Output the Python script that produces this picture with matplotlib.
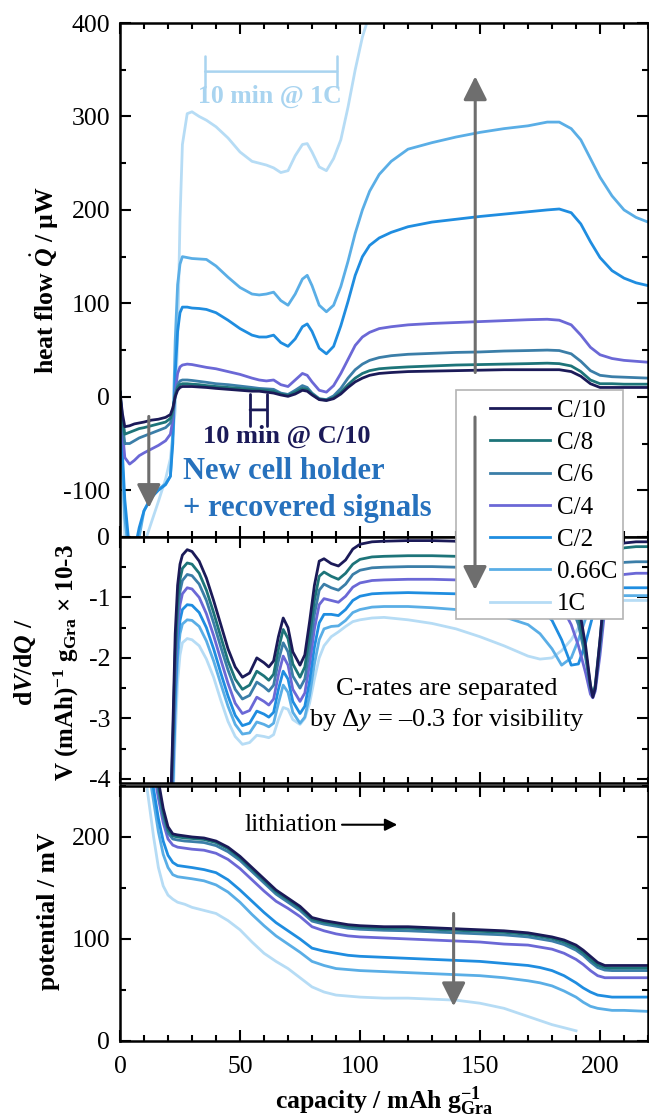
import numpy as np
import matplotlib
matplotlib.use('Agg')
import matplotlib.pyplot as plt
from matplotlib.ticker import MultipleLocator
from matplotlib.patches import Rectangle, FancyArrowPatch

plt.rcParams['font.family'] = ['Liberation Serif', 'DejaVu Serif']
plt.rcParams['mathtext.fontset'] = 'custom'
plt.rcParams['mathtext.rm'] = 'Liberation Serif'
plt.rcParams['mathtext.it'] = 'Liberation Serif:italic'
plt.rcParams['mathtext.bf'] = 'Liberation Serif:bold'
plt.rcParams['mathtext.bfit'] = 'Liberation Serif:italic:bold'
plt.rcParams['axes.unicode_minus'] = False

rates = ['C/10', 'C/8', 'C/6', 'C/4', 'C/2', '0.66C', '1C']
colors = ['#1b1a58', '#1d7479', '#3b7ea8', '#6b68d6', '#1f8de0', '#5aaee6', '#b6dcf5']

# heat flow / uW
heat_x = [0, 1, 2, 4, 6, 8, 10, 13, 16, 19, 21, 22, 23, 24, 25, 26, 28, 30, 33, 36,
          40, 45, 50, 55, 58, 61, 64, 67, 70, 73, 76, 78, 80, 83, 86, 89, 92, 95, 98, 101,
          104, 108, 113, 120, 130, 140, 150, 160, 170, 178, 183, 188, 192, 196, 200, 205, 210, 215, 220]
heat_c10 = [5, -18, -32, -31, -29, -28, -27, -25, -24, -22, -19, -12, 0, 7, 10, 11, 11, 11, 10.5, 10,
            9, 8, 7, 6, 6, 5, 4, 2, 0.5, 3, 7, 6, 2, -3, -4, -2, 3, 10, 16, 20,
            23, 25, 26, 27, 27.5, 28, 28.5, 29, 29, 29, 29, 27, 22, 14, 10, 10, 10, 10, 10]
heat_c8 = [5, -22, -40, -38, -36, -34, -33, -31, -29, -27, -23, -14, 2, 10, 13, 14, 14, 13.5, 13, 12,
           11, 10, 9, 8, 7.5, 7, 6, 3, 1.5, 5, 9, 8, 3, -2.5, -3.5, -1, 5, 13, 20, 25,
           28, 30, 31, 32, 33, 34, 34.5, 35, 35.5, 36, 35.5, 33, 27, 18, 14, 14, 13.5, 13.5, 13.5]
heat_c6 = [5, -28, -50, -50, -47, -44, -42, -39, -36, -33, -28, -18, 2, 13, 17, 18, 18, 17.5, 16.5, 15.5,
           14, 13, 11.5, 10, 9, 8.5, 8, 4, 2.5, 7, 12, 10, 4, -2, -3, 1, 9, 20, 29, 35,
           39, 42, 44, 45.5, 46.5, 47.5, 48, 49, 49.5, 50, 49.5, 46, 38, 28, 23, 21.5, 21, 20.5, 20]
heat_c4 = [5, -35, -65, -72, -68, -63, -60, -56, -52, -47, -40, -25, 5, 25, 32, 34, 35, 34.5, 33, 31.5,
           30, 27, 24, 20, 18, 17, 18, 13, 11, 18, 25, 23, 16, 7, 5, 12, 25, 40, 55, 64,
           69, 73, 75, 77, 78.5, 79.5, 80.5, 81.5, 82.5, 83, 82, 77, 66, 53, 45, 41, 39, 38, 37]
heat_c2 = [5, -60, -110, -165, -165, -140, -122, -108, -100, -94, -85, -50, 25, 70, 90, 96, 96, 95, 94.5, 93.5,
           90, 82, 73, 66, 64, 64, 66, 58, 54, 62, 75, 78, 70, 52, 46, 54, 76, 102, 130, 150,
           162, 170, 176, 182, 187, 190, 193, 195.5, 198, 200, 201, 197, 185, 166, 149, 135, 127, 122, 119]
heat_c066 = [5, -70, -130, -175, -170, -150, -122, -107, -99, -93, -85, -40, 60, 120, 142, 150, 149, 148, 147.5, 147,
             140, 128, 117, 110, 109, 110, 112, 103, 98, 110, 126, 130, 119, 98, 91, 98, 118, 145, 175, 200,
             220, 238, 252, 265, 272, 278, 283, 287, 290, 294, 294, 287, 275, 255, 235, 215, 200, 192, 187]
heat_c1 = [5, -80, -150, -185, -190, -175, -158, -135, -112, -88, -66, -40, -15, 60, 190, 270, 303, 305, 300, 296,
           289, 277, 262, 252, 250, 248, 245, 240, 242, 258, 270, 271, 262, 246, 242, 255, 275, 310, 350, 385,
           410, 460] + [np.nan] * 17

# dV/dQ, each C-rate shifted by -0.3
dvdq_x = [20, 21, 22, 23, 24, 25, 26, 28, 30, 33, 36, 39, 42, 45, 48, 51, 54, 57, 60, 62,
          64, 66, 68, 70, 72, 75, 77, 79, 81, 83, 85, 88, 91, 94, 97, 100, 105, 110, 120, 130,
          140, 150, 160, 170, 175, 180, 184, 188, 191, 194, 196, 197, 198, 200, 202, 205, 210, 215, 220]
dvdq_c10 = [-5.0, -4.6, -3.2, -1.6, -0.8, -0.45, -0.3, -0.21, -0.24, -0.4,
            -0.68, -1.05, -1.45, -1.85, -2.15, -2.32, -2.25, -2.0, -2.08, -2.15,
            -2.05, -1.65, -1.34, -1.5, -1.9, -2.12, -1.95, -1.4, -0.8, -0.4,
            -0.36, -0.44, -0.48, -0.38, -0.2, -0.12, -0.08, -0.07, -0.06, -0.06,
            -0.07, -0.08, -0.1, -0.14, -0.18, -0.26, -0.4, -0.7, -1.1, -1.8,
            -2.45, -2.65, -2.5, -1.7, -0.8, -0.25, -0.1, -0.08, -0.08]
dvdq_c8 = [-5.0, -4.7, -3.4, -1.9, -1.05, -0.7, -0.52, -0.43, -0.45, -0.6,
           -0.88, -1.25, -1.65, -2.05, -2.35, -2.52, -2.45, -2.22, -2.3, -2.37,
           -2.27, -1.86, -1.53, -1.68, -2.1, -2.32, -2.15, -1.62, -1.05, -0.65,
           -0.58, -0.65, -0.7, -0.6, -0.45, -0.37, -0.33, -0.32, -0.31, -0.31,
           -0.32, -0.33, -0.35, -0.4, -0.45, -0.55, -0.7, -0.95, -1.3, -1.9,
           -2.45, -2.62, -2.45, -1.7, -0.85, -0.3, -0.18, -0.16, -0.16]
dvdq_c6 = [-5.0, -4.8, -3.6, -2.1, -1.25, -0.9, -0.72, -0.62, -0.64, -0.78,
           -1.05, -1.42, -1.82, -2.2, -2.52, -2.68, -2.62, -2.4, -2.48, -2.55,
           -2.45, -2.05, -1.75, -1.9, -2.3, -2.5, -2.35, -1.85, -1.28, -0.88,
           -0.78, -0.84, -0.88, -0.78, -0.62, -0.55, -0.51, -0.5, -0.49, -0.49,
           -0.5, -0.51, -0.53, -0.58, -0.63, -0.72, -0.88, -1.12, -1.45, -2.0,
           -2.5, -2.63, -2.5, -1.8, -1.0, -0.5, -0.42, -0.41, -0.41]
dvdq_c4 = [-5.0, -4.8, -3.8, -2.35, -1.5, -1.12, -0.94, -0.84, -0.86, -1.0,
           -1.27, -1.63, -2.03, -2.42, -2.75, -2.92, -2.87, -2.65, -2.72, -2.78,
           -2.68, -2.28, -1.97, -2.12, -2.52, -2.72, -2.58, -2.1, -1.52, -1.12,
           -1.02, -1.05, -1.08, -0.98, -0.83, -0.76, -0.72, -0.71, -0.7, -0.7,
           -0.71, -0.72, -0.75, -0.8, -0.86, -0.97, -1.15, -1.45, -1.8, -2.25,
           -2.6, -2.66, -2.55, -1.95, -1.2, -0.7, -0.62, -0.6, -0.6]
dvdq_c2 = [-5.0, -4.9, -4.0, -2.6, -1.75, -1.38, -1.2, -1.12, -1.13, -1.25,
           -1.5, -1.85, -2.25, -2.63, -2.95, -3.12, -3.08, -2.88, -2.93, -2.98,
           -2.9, -2.52, -2.22, -2.35, -2.72, -2.92, -2.8, -2.38, -1.82, -1.42,
           -1.28, -1.28, -1.3, -1.2, -1.05, -0.98, -0.94, -0.93, -0.92, -0.93,
           -0.94, -0.96, -1.0, -1.08, -1.18, -1.38, -1.7, -2.12, -2.1, -1.75,
           -1.45, -1.3, -1.15, -0.95, -0.88, -0.85, -0.84, -0.84, -0.84]
dvdq_c066 = [-5.0, -4.9, -4.2, -2.9, -2.0, -1.6, -1.44, -1.37, -1.38, -1.48,
             -1.72, -2.05, -2.43, -2.8, -3.1, -3.26, -3.24, -3.06, -3.1, -3.14,
             -3.08, -2.75, -2.45, -2.57, -2.9, -3.08, -2.98, -2.62, -2.1, -1.7,
             -1.52, -1.48, -1.47, -1.38, -1.25, -1.2, -1.16, -1.15, -1.15, -1.17,
             -1.2, -1.25, -1.32, -1.45, -1.6, -1.85, -2.12, -2.0, -1.7, -1.35,
             -1.15, -1.08, -1.03, -0.98, -0.97, -0.97, -0.97, -0.97, -0.97]
dvdq_c1 = [-5.0, -5.0, -4.5, -3.3, -2.4, -1.95, -1.75, -1.68, -1.7, -1.8,
           -2.02, -2.32, -2.7, -3.05, -3.3, -3.43, -3.4, -3.28, -3.3, -3.32,
           -3.27, -3.02, -2.82, -2.85, -3.02, -3.1, -3.0, -2.75, -2.35, -2.0,
           -1.8, -1.65, -1.57, -1.48, -1.4, -1.37, -1.34, -1.33, -1.37, -1.43,
           -1.52, -1.65, -1.8, -1.97, -2.02, -2.0, -1.88, -1.7, -1.5, -1.3,
           -1.2, -1.15, -1.12, -1.08, -1.06, -1.05, -1.05, -1.05, -1.05]

# potential / mV
pot_x = [8, 10, 12, 14, 16, 18, 20, 22, 24, 27, 30, 35, 40, 45, 50, 55, 60, 65, 70, 75,
         80, 85, 90, 95, 100, 110, 120, 130, 140, 150, 160, 170, 175, 180, 185, 190, 193, 196, 199, 202,
         205, 210, 220]
pot_c10 = [420, 380, 335, 290, 255, 228, 210, 203, 202, 201, 200, 199, 196, 190, 181, 170, 159, 148, 140, 132,
           121, 118, 116, 114, 113, 112, 112, 111, 110, 109, 108, 106, 104, 102, 99, 94, 89, 83, 77, 74,
           74, 74, 74]
pot_c8 = [410, 370, 328, 285, 250, 224, 207, 201, 200, 199, 198.5, 197.5, 194.5, 188.5, 179.5, 168.5, 157.5, 146.5, 138.5, 130.5,
          119.5, 116.5, 114.5, 112.5, 111.5, 110.5, 110.5, 109.5, 108.5, 107.5, 106.5, 104.5, 102.5, 100.5, 97, 91.5, 86.5, 80, 74.5, 72,
          71.5, 71.5, 71.5]
pot_c6 = [400, 362, 320, 278, 245, 220, 204, 198, 197, 196, 195.5, 194.5, 191.5, 185.5, 177, 166, 155, 144, 136, 128,
          117.5, 114.5, 112.5, 110.5, 109.5, 108.5, 108, 107, 106, 105, 104, 102, 100, 98, 94.5, 89, 84, 77.5, 72, 69.5,
          69, 69, 69]
pot_c4 = [380, 340, 300, 265, 238, 214, 198, 192, 190, 189, 188, 187, 184, 178, 169, 158, 147, 137, 130, 122,
          112, 108, 105, 103, 102, 101, 100, 99, 98, 97, 95, 94, 92, 90, 86, 80, 75, 69, 64, 62,
          62, 62, 62]
pot_c2 = [350, 315, 280, 247, 218, 196, 182, 175, 172, 171, 170, 168, 165, 158, 148, 137, 126, 116, 108, 100,
          91, 88, 86, 84, 83, 82, 81, 80, 79, 78, 76, 74, 72, 69, 64, 57, 52, 48, 45, 44,
          43, 43, 43]
pot_c066 = [340, 300, 265, 235, 205, 183, 170, 163, 161, 160, 159, 157, 153, 146, 136, 124, 113, 103, 95, 87,
            78, 74, 71, 70, 69, 68, 67, 66, 65, 64, 62, 59, 57, 54, 49, 43, 38, 34, 32, 31,
            30, 30, 29]
pot_c1 = [320, 270, 235, 200, 170, 152, 143, 139, 136, 134, 131, 128, 125, 118, 109, 97, 86, 78, 71, 62,
          53, 48, 45, 44, 43, 42, 42, 41, 40, 37, 32, 24, 20, 16, 13, 10] + [np.nan] * 7

heat = [heat_c10, heat_c8, heat_c6, heat_c4, heat_c2, heat_c066, heat_c1]
dvdq = [dvdq_c10, dvdq_c8, dvdq_c6, dvdq_c4, dvdq_c2, dvdq_c066, dvdq_c1]
pot = [pot_c10, pot_c8, pot_c6, pot_c4, pot_c2, pot_c066, pot_c1]

fig = plt.figure(figsize=(6.49, 11.18), dpi=100)
ax_q = fig.add_axes([0.1849, 0.5197, 0.8136, 0.4597])
ax_d = fig.add_axes([0.1849, 0.2996, 0.8136, 0.2201])
ax_v = fig.add_axes([0.1849, 0.0689, 0.8136, 0.2281])


def style_axes(ax, ymajor, yminor):
    ax.set_xlim(0, 220)
    ax.xaxis.set_major_locator(MultipleLocator(50))
    ax.xaxis.set_minor_locator(MultipleLocator(10))
    ax.yaxis.set_major_locator(MultipleLocator(ymajor))
    ax.yaxis.set_minor_locator(MultipleLocator(yminor))
    ax.tick_params(which='both', direction='in', top=True, right=True,
                   width=1.5, labelsize=18.5, pad=7)
    ax.tick_params(axis='x', pad=11)
    ax.tick_params(which='major', length=8)
    ax.tick_params(which='minor', length=4.5)
    for s in ax.spines.values():
        s.set_linewidth(1.8)


lines = []
for i in reversed(range(len(rates))):
    ln, = ax_q.plot(heat_x, heat[i], color=colors[i], lw=2, label=rates[i],
                    solid_joinstyle='round')
    lines.append(ln)
    ax_d.plot(dvdq_x, dvdq[i], color=colors[i], lw=2, solid_joinstyle='round')
    ax_v.plot(pot_x, pot[i], color=colors[i], lw=2, solid_joinstyle='round')
lines = lines[::-1]

style_axes(ax_q, 100, 50)
ax_q.set_ylim(-150, 400)
ax_q.tick_params(labelbottom=False)
style_axes(ax_d, 1, 0.5)
ax_d.set_ylim(-4.07, 0)
ax_d.tick_params(labelbottom=False)
style_axes(ax_v, 100, 50)
ax_v.set_ylim(0, 250)

# axis labels
ax_q.set_ylabel(r'heat flow $\dot{\mathbfit{Q}}$ / µW', fontsize=18.5, fontweight='bold', va='center')
ax_q.yaxis.set_label_coords(-0.142, 0.5)
ax_d.text(-0.18, 0.49, r'd$\mathbfit{V}$/d$\mathbfit{Q}$ /', transform=ax_d.transAxes,
          rotation=90, ha='center', va='center', fontsize=18.5, fontweight='bold')
ax_d.text(-0.102, 0.49, r'V (mAh)$^{\mathbf{-1}}$ g$_{\mathbf{Gra}}$ × 10-3', transform=ax_d.transAxes,
          rotation=90, ha='center', va='center', fontsize=18, fontweight='bold')
ax_v.set_ylabel('potential / mV', fontsize=18.5, fontweight='bold', va='center')
ax_v.yaxis.set_label_coords(-0.136, 0.51)
ax_v.set_xlabel(r'capacity / mAh g$^{\mathbf{-1}}_{\mathbf{Gra}}$', fontsize=18.5, fontweight='bold', va='center')
ax_v.xaxis.set_label_coords(0.5, -0.235)

gray = dict(arrowstyle='-|>', color='#6e6e6e', lw=2.2, mutation_scale=36, shrinkA=0, shrinkB=0)

# heat flow annotations
ax_q.annotate('', xy=(35.5, 348), xytext=(90.5, 348),
              arrowprops=dict(arrowstyle='|-|,widthA=0.55,widthB=0.55', color='#a9d4f0',
                              lw=1.8, mutation_scale=20, shrinkA=0, shrinkB=0))
ax_q.text(62.5, 321, '10 min @ 1C', color='#a9d4f0', fontsize=18.5, fontweight='bold',
          ha='center', va='center')
ax_q.annotate('', xy=(54.2, -14), xytext=(61.2, -14),
              arrowprops=dict(arrowstyle='|-|,widthA=0.58,widthB=0.58', color='#1b1a58',
                              lw=2, mutation_scale=20, shrinkA=0, shrinkB=0))
ax_q.text(34.6, -42, '10 min @ C/10', color='#1b1a58', fontsize=19, fontweight='bold',
          ha='left', va='center')
ax_q.text(26.3, -80, 'New cell holder', color='#2671bd', fontsize=22, fontweight='bold',
          ha='left', va='center')
ax_q.text(26.3, -119, '+ recovered signals', color='#2671bd', fontsize=22, fontweight='bold',
          ha='left', va='center')
ax_q.annotate('', xy=(148, 343), xytext=(148, 26), arrowprops=gray)
ax_q.annotate('', xy=(12, -119), xytext=(12, -21), arrowprops=gray)

# dV/dQ note
ax_d.text(136, -2.78, 'C-rates are separated\nby Δ$y$ = –0.3 for visibility',
          ha='center', va='center', fontsize=19, linespacing=1.3)

# potential annotations
ax_v.text(51.7, 212, 'lithiation', fontsize=18.5, ha='left', va='center')
ax_v.annotate('', xy=(115.5, 212), xytext=(92.5, 212),
              arrowprops=dict(arrowstyle='-|>', color='black', lw=1.5, mutation_scale=18,
                              shrinkA=0, shrinkB=0))
ax_v.annotate('', xy=(139, 34), xytext=(139, 125), arrowprops=gray)

# legend box sits across the top and middle panels
fig.add_artist(Rectangle((0.7026, 0.4463), 0.2573, 0.2048, transform=fig.transFigure,
                         facecolor='white', edgecolor='#b4b4b4', lw=1.2, zorder=5))
leg = fig.legend(lines, rates, loc='upper left', bbox_to_anchor=(0.755, 0.6427),
                 frameon=False, fontsize=18, handlelength=2.4, handletextpad=0.28,
                 labelspacing=0.39, borderpad=0, borderaxespad=0)
leg.set_zorder(6)
fig.add_artist(FancyArrowPatch((0.7319, 0.627), (0.7319, 0.4723), transform=fig.transFigure,
                               arrowstyle='-|>', color='#6e6e6e', lw=2.2, mutation_scale=36,
                               shrinkA=0, shrinkB=0, zorder=7))

fig.savefig('out.png', dpi=100)
